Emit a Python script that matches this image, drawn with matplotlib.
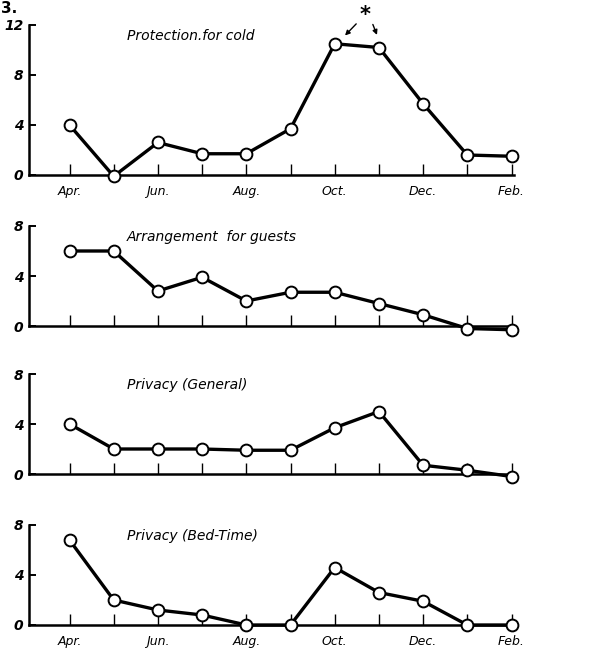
import matplotlib

matplotlib.use("Agg")
import matplotlib.pyplot as plt

months = ["Apr.", "May", "Jun.", "Jul.", "Aug.", "Sep.", "Oct.", "Nov.", "Dec.", "Jan.", "Feb."]
month_labels = ["Apr.", "", "Jun.", "", "Aug.", "", "Oct.", "", "Dec.", "", "Feb."]

protection_cold = [4.0, -0.1, 2.6, 1.7, 1.7, 3.7, 10.5, 10.2, 5.7, 1.6, 1.5]
arrangement_guests = [6.0, 6.0, 2.8, 3.9, 2.0, 2.7, 2.7, 1.8, 0.9, -0.2, -0.3]
privacy_general = [4.0, 2.0, 2.0, 2.0, 1.9, 1.9, 3.7, 5.0, 0.7, 0.3, -0.2]
privacy_bedtime = [6.8, 2.0, 1.2, 0.8, 0.0, 0.0, 4.6, 2.6, 1.9, 0.0, 0.0]

titles = ["Protection.for cold", "Arrangement  for guests", "Privacy (General)", "Privacy (Bed-Time)"]
series = [protection_cold, arrangement_guests, privacy_general, privacy_bedtime]
y_tops = [12, 8, 8, 8]
show_xlabels = [True, False, False, True]

W, H = 592, 651
zero_px = [175, 326, 474, 625]   # pixel row of y=0 in each panel
px_per_unit = 12.5
x_left_px, x_right_px = 29, 514
x0_px, dx_px = 69.5, 44.2
lo = -0.9

fig = plt.figure(figsize=(W / 100, H / 100), dpi=100)
font = dict(style="italic", family="DejaVu Sans")

x = list(range(len(months)))
axes = []
for i, (vals, title, top) in enumerate(zip(series, titles, y_tops)):
    hi = top + 0.4
    bottom_px = zero_px[i] - lo * px_per_unit
    top_px = zero_px[i] - hi * px_per_unit
    ax = fig.add_axes([x_left_px / W, 1 - bottom_px / H,
                       (x_right_px - x_left_px) / W, (bottom_px - top_px) / H])
    ax.set_xlim((x_left_px - x0_px) / dx_px, (x_right_px - x0_px) / dx_px)
    ax.set_ylim(lo, hi)
    ax.patch.set_alpha(0)

    ax.plot(x, vals, color="black", linewidth=2.4, marker="o", markersize=8.5,
            markerfacecolor="white", markeredgecolor="black", markeredgewidth=1.4,
            clip_on=False, zorder=3)

    for side in ("top", "right"):
        ax.spines[side].set_visible(False)
    ax.spines["bottom"].set_position(("data", 0))
    ax.spines["left"].set_bounds(0, top)
    ax.spines["bottom"].set_linewidth(1.8)
    ax.spines["left"].set_linewidth(1.8)

    ax.set_xticks(x)
    if show_xlabels[i]:
        ax.set_xticklabels(month_labels, fontsize=9, **font)
    else:
        ax.set_xticklabels([])
    ax.tick_params(axis="x", direction="in", length=8, width=1.0, pad=7)
    ax.set_yticks(list(range(0, top + 1, 4)))
    ax.set_yticklabels([str(v) for v in range(0, top + 1, 4)], fontsize=10,
                       weight="bold", **font)
    ax.tick_params(axis="y", direction="in", length=5, width=1.4, pad=4)

    ax.text((127 - x0_px) / dx_px, top - 0.9, title, fontsize=10, ha="left",
            va="center", **font)
    axes.append(ax)

# asterisk marking the October / November peak
ax0 = axes[0]
ax0.text(6.69, 12.8, "*", fontsize=15, weight="bold", ha="center",
         va="center", clip_on=False)
ax0.annotate("", xy=(6.19, 11.0), xytext=(6.53, 12.25),
             arrowprops=dict(arrowstyle="-|>", color="black", lw=1.0,
                             mutation_scale=7),
             annotation_clip=False)
ax0.annotate("", xy=(6.98, 11.0), xytext=(6.84, 12.25),
             arrowprops=dict(arrowstyle="-|>", color="black", lw=1.0,
                             mutation_scale=7),
             annotation_clip=False)

fig.text(0.002, 0.999, "3.", fontsize=11, weight="bold", ha="left", va="top")

fig.savefig("out.png", dpi=100)
